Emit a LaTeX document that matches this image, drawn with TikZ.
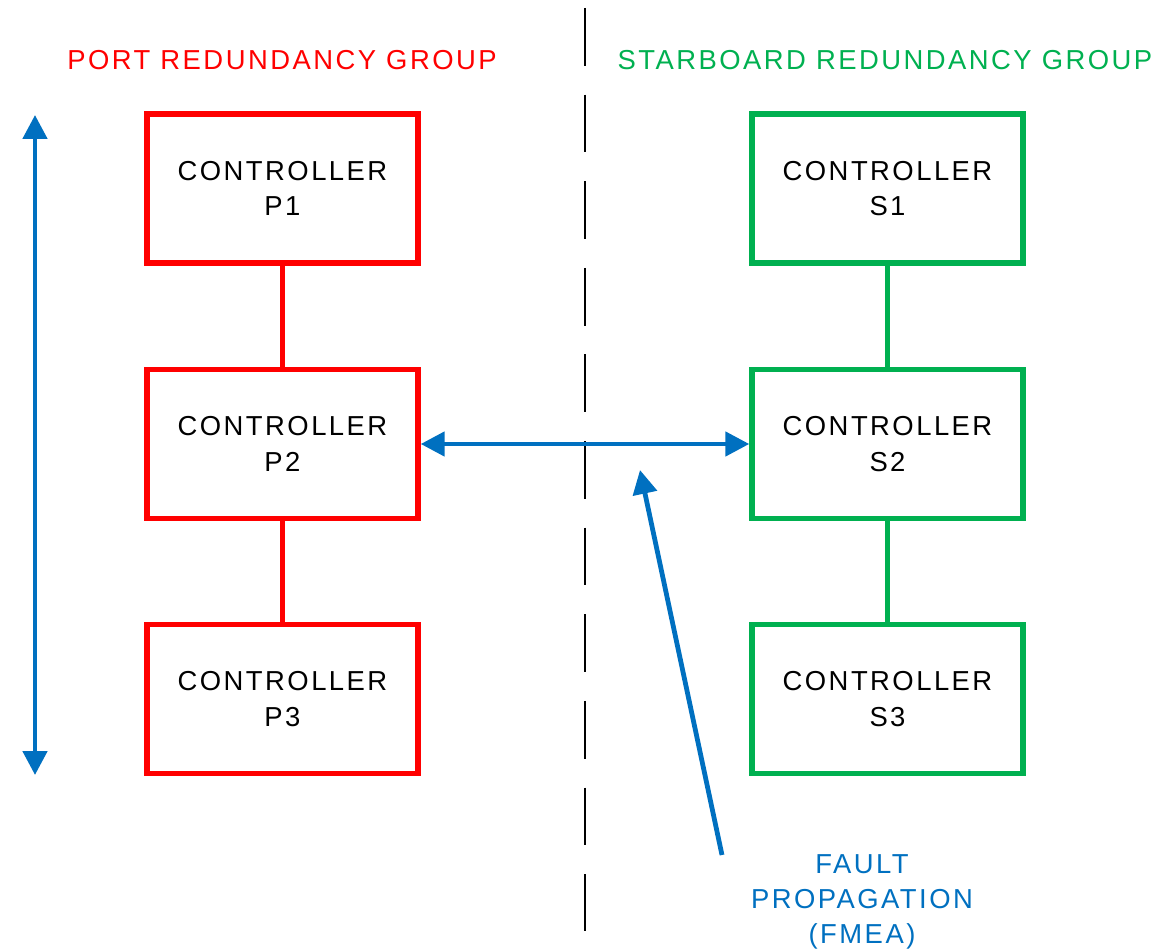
\documentclass[tikz,border=0pt]{standalone}
\usepackage{fontspec}
\setmainfont{Liberation Sans}[LetterSpace=9]
\usepackage{tikz}
\usetikzlibrary{arrows.meta,positioning}
\definecolor{portred}{RGB}{255,0,0}
\definecolor{stbgreen}{RGB}{0,176,80}
\definecolor{linkblue}{RGB}{0,112,192}

\begin{document}
\begin{tikzpicture}[
    x=0.025cm, y=-0.025cm,
    ctrl/.style={rectangle, line width=3.8pt, minimum width=6.775cm, minimum height=3.725cm, align=center, font=\fontsize{19.5}{25}\selectfont},
    link/.style={line width=3.4pt},
    arr/.style={{Triangle[length=17pt,width=17pt]}-{Triangle[length=17pt,width=17pt]}, line width=3.4pt, linkblue},
    grp/.style={font=\fontsize{19.5}{25}\selectfont},
  ]
    \useasboundingbox (0,0) rectangle (1160,951);

    % Port side
    \node[ctrl, draw=portred] (p1) at (282.5,188.5) {CONTROLLER\\P1};
    \node[ctrl, draw=portred] (p2) at (282.5,444) {CONTROLLER\\P2};
    \node[ctrl, draw=portred] (p3) at (282.5,699) {CONTROLLER\\P3};

    % Starboard side
    \node[ctrl, draw=stbgreen] (s1) at (887.5,188.5) {CONTROLLER\\S1};
    \node[ctrl, draw=stbgreen] (s2) at (887.5,444) {CONTROLLER\\S2};
    \node[ctrl, draw=stbgreen] (s3) at (887.5,699) {CONTROLLER\\S3};

    % Group titles
    \node[grp, text=portred] (ptitle) at (282,60) {PORT REDUNDANCY GROUP};
    \node[grp, text=stbgreen] (stitle) at (885,60) {STARBOARD REDUNDANCY GROUP};

    % Chain links
    \draw[link, portred] (p1) -- (p2);
    \draw[link, portred] (p2) -- (p3);
    \draw[link, stbgreen] (s1) -- (s2);
    \draw[link, stbgreen] (s2) -- (s3);

    % Divider
    \coordinate (dtop) at (585,8);
    \coordinate (dbot) at (585,931);
    \draw[line width=2pt, dash pattern=on 41pt off 20.6pt] (dtop) -- (dbot);

    % Redundancy span
    \coordinate (vtop) at (35,115);
    \coordinate (vbot) at (35,775);
    \draw[arr] (vtop) -- (vbot);

    % Cross-group link
    \draw[arr] (p2.east) -- (s2.west);

    % Fault propagation
    \node[text=linkblue, align=center, font=\fontsize{19.5}{25}\selectfont] (fault) at (862,902) {FAULT\\PROPAGATION\\(FMEA)};
    \coordinate (ftail) at (722,855);
    \coordinate (fhead) at (640,470);
    \draw[-{Triangle[length=17pt,width=17pt]}, line width=3.4pt, linkblue] (ftail) -- (fhead);

  \end{tikzpicture}
\end{document}
